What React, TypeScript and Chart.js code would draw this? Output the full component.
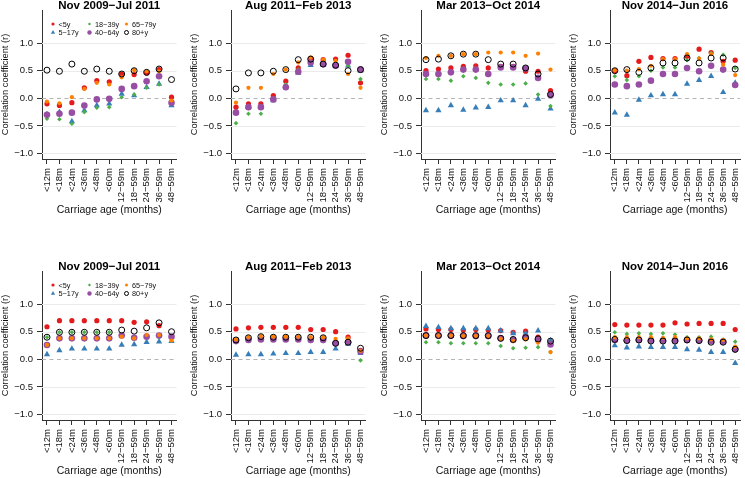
import React, { useEffect, useRef } from "react";
import { Chart, registerables } from "chart.js";

Chart.register(...registerables);

const FONT = "'Liberation Sans', Arial, Helvetica, sans-serif";

// ---- labels ----
const categories = ["<12m", "<18m", "<24m", "<36m", "<48m", "<60m", "12−59m", "18−59m", "24−59m", "36−59m", "48−59m"];
const seriesNames = ["<5y", "5−17y", "18−39y", "40−64y", "65−79y", "80+y"];
const periods = ["Nov 2009−Jul 2011", "Aug 2011−Feb 2013", "Mar 2013−Oct 2014", "Nov 2014−Jun 2016"];
const yTickValues = [-1, -0.5, 0, 0.5, 1];
const yTickLabels = ["−1.0", "−0.5", "0.0", "0.5", "1.0"];
const yTitle = "Correlation coefficient (r)";
const xTitle = "Carriage age (months)";

// ---- top row data ----
const t1_u5 = [-0.10, -0.13, -0.08, 0.19, 0.32, 0.30, 0.44, 0.43, 0.46, 0.52, 0.02];
const t1_5to17 = [-0.29, -0.25, -0.42, -0.22, -0.13, -0.10, 0.08, 0.05, 0.20, 0.26, -0.13];
const t1_18to39 = [-0.37, -0.38, -0.46, -0.25, -0.17, -0.16, 0.02, 0.07, 0.19, 0.25, -0.08];
const t1_40to64 = [-0.30, -0.28, -0.26, -0.13, -0.02, -0.01, 0.17, 0.22, 0.31, 0.40, -0.08];
const t1_65to79 = [-0.06, -0.09, 0.02, 0.17, 0.28, 0.25, 0.38, 0.51, 0.49, 0.49, -0.04];
const t1_80p = [0.51, 0.49, 0.62, 0.49, 0.53, 0.49, 0.44, 0.50, 0.47, 0.53, 0.34];

const t2_u5 = [-0.16, -0.10, -0.10, 0.05, 0.31, 0.55, 0.72, 0.70, 0.71, 0.78, 0.28];
const t2_5to17 = [-0.26, -0.16, -0.16, -0.04, 0.23, 0.46, 0.60, 0.61, 0.59, 0.59, 0.50];
const t2_18to39 = [-0.45, -0.28, -0.28, -0.02, 0.25, 0.52, 0.68, 0.62, 0.62, 0.59, 0.35];
const t2_40to64 = [-0.26, -0.16, -0.16, -0.02, 0.20, 0.48, 0.65, 0.62, 0.59, 0.66, 0.52];
const t2_65to79 = [-0.08, 0.19, 0.19, 0.44, 0.52, 0.65, 0.74, 0.70, 0.68, 0.44, 0.19];
const t2_80p = [0.17, 0.46, 0.46, 0.49, 0.52, 0.70, 0.71, 0.62, 0.60, 0.50, 0.52];

const t3_u5 = [0.50, 0.53, 0.55, 0.58, 0.59, 0.55, 0.58, 0.58, 0.49, 0.49, 0.14];
const t3_5to17 = [-0.22, -0.22, -0.13, -0.21, -0.17, -0.16, -0.04, -0.04, -0.13, -0.01, -0.19];
const t3_18to39 = [0.35, 0.35, 0.32, 0.40, 0.37, 0.28, 0.25, 0.25, 0.27, 0.07, -0.14];
const t3_40to64 = [0.44, 0.44, 0.47, 0.52, 0.52, 0.44, 0.56, 0.56, 0.54, 0.37, 0.06];
const t3_65to79 = [0.73, 0.77, 0.77, 0.80, 0.80, 0.83, 0.83, 0.83, 0.77, 0.81, 0.52];
const t3_80p = [0.70, 0.71, 0.77, 0.80, 0.80, 0.70, 0.62, 0.62, 0.55, 0.44, 0.07];

const t4_u5 = [0.50, 0.41, 0.67, 0.74, 0.72, 0.72, 0.76, 0.89, 0.83, 0.67, 0.69];
const t4_5to17 = [-0.26, -0.30, -0.03, 0.05, 0.07, 0.07, 0.26, 0.33, 0.40, 0.11, 0.28];
const t4_18to39 = [0.40, 0.33, 0.40, 0.50, 0.56, 0.56, 0.69, 0.73, 0.82, 0.79, 0.55];
const t4_40to64 = [0.25, 0.22, 0.25, 0.32, 0.44, 0.44, 0.55, 0.49, 0.59, 0.52, 0.24];
const t4_65to79 = [0.51, 0.50, 0.53, 0.59, 0.71, 0.71, 0.80, 0.72, 0.80, 0.61, 0.42];
const t4_80p = [0.50, 0.52, 0.47, 0.55, 0.64, 0.64, 0.73, 0.64, 0.73, 0.73, 0.53];

// ---- bottom row data ----
const b1_u5 = [0.59, 0.70, 0.70, 0.70, 0.70, 0.70, 0.70, 0.67, 0.68, 0.61, 0.41];
const b1_5to17 = [0.09, 0.16, 0.19, 0.19, 0.19, 0.19, 0.26, 0.27, 0.31, 0.32, 0.33];
const b1_18to39 = [0.40, 0.49, 0.49, 0.49, 0.49, 0.49, 0.43, 0.40, 0.42, 0.40, 0.41];
const b1_40to64 = [0.26, 0.38, 0.38, 0.38, 0.38, 0.38, 0.43, 0.39, 0.41, 0.43, 0.41];
const b1_65to79 = [0.26, 0.38, 0.38, 0.38, 0.38, 0.38, 0.41, 0.38, 0.44, 0.44, 0.34];
const b1_80p = [0.40, 0.49, 0.49, 0.49, 0.49, 0.49, 0.53, 0.51, 0.57, 0.66, 0.50];

const b2_u5 = [0.55, 0.57, 0.58, 0.58, 0.58, 0.58, 0.54, 0.54, 0.50, 0.40, 0.16];
const b2_5to17 = [0.08, 0.09, 0.09, 0.10, 0.11, 0.11, 0.13, 0.13, 0.19, 0.28, 0.11];
const b2_18to39 = [0.32, 0.34, 0.35, 0.35, 0.35, 0.35, 0.33, 0.33, 0.30, 0.30, -0.02];
const b2_40to64 = [0.33, 0.35, 0.36, 0.36, 0.36, 0.36, 0.35, 0.35, 0.29, 0.31, 0.14];
const b2_65to79 = [0.36, 0.40, 0.42, 0.41, 0.41, 0.41, 0.40, 0.40, 0.37, 0.38, 0.15];
const b2_80p = [0.35, 0.39, 0.41, 0.40, 0.40, 0.40, 0.40, 0.39, 0.29, 0.31, 0.20];

const b3_u5 = [0.55, 0.54, 0.54, 0.53, 0.54, 0.53, 0.52, 0.49, 0.51, 0.40, 0.31];
const b3_5to17 = [0.60, 0.58, 0.56, 0.56, 0.56, 0.56, 0.52, 0.47, 0.47, 0.52, 0.34];
const b3_18to39 = [0.31, 0.31, 0.29, 0.29, 0.29, 0.29, 0.24, 0.20, 0.21, 0.22, 0.13];
const b3_40to64 = [0.43, 0.43, 0.43, 0.42, 0.42, 0.42, 0.38, 0.35, 0.40, 0.35, 0.27];
const b3_65to79 = [0.43, 0.43, 0.43, 0.42, 0.42, 0.42, 0.37, 0.33, 0.36, 0.30, 0.13];
const b3_80p = [0.43, 0.43, 0.43, 0.43, 0.43, 0.43, 0.38, 0.36, 0.39, 0.37, 0.33];

const b4_u5 = [0.63, 0.62, 0.62, 0.62, 0.62, 0.66, 0.64, 0.65, 0.65, 0.65, 0.54];
const b4_5to17 = [0.25, 0.21, 0.23, 0.22, 0.22, 0.22, 0.18, 0.17, 0.13, 0.13, -0.07];
const b4_18to39 = [0.49, 0.46, 0.47, 0.46, 0.47, 0.45, 0.40, 0.40, 0.41, 0.36, 0.32];
const b4_40to64 = [0.35, 0.34, 0.35, 0.34, 0.34, 0.34, 0.35, 0.34, 0.33, 0.32, 0.18];
const b4_65to79 = [0.40, 0.40, 0.40, 0.40, 0.39, 0.40, 0.38, 0.38, 0.36, 0.35, 0.23];
const b4_80p = [0.36, 0.34, 0.35, 0.33, 0.33, 0.33, 0.35, 0.34, 0.31, 0.31, 0.18];

const topRow = [
  [t1_u5, t1_5to17, t1_18to39, t1_40to64, t1_65to79, t1_80p],
  [t2_u5, t2_5to17, t2_18to39, t2_40to64, t2_65to79, t2_80p],
  [t3_u5, t3_5to17, t3_18to39, t3_40to64, t3_65to79, t3_80p],
  [t4_u5, t4_5to17, t4_18to39, t4_40to64, t4_65to79, t4_80p],
];
const bottomRow = [
  [b1_u5, b1_5to17, b1_18to39, b1_40to64, b1_65to79, b1_80p],
  [b2_u5, b2_5to17, b2_18to39, b2_40to64, b2_65to79, b2_80p],
  [b3_u5, b3_5to17, b3_18to39, b3_40to64, b3_65to79, b3_80p],
  [b4_u5, b4_5to17, b4_18to39, b4_40to64, b4_65to79, b4_80p],
];

// ---- styles ----
const seriesColors = ["#E41A1C", "#377EB8", "#4DAF4A", "#984EA3", "#FF7F00", "#000000"];
const seriesStyles = ["circle", "triangle", "rectRot", "circle", "circle", "circle"];
const seriesRadius = [2.6, 3.6, 2.3, 3.3, 2.1, 3.0];
const seriesOpen = [false, false, false, false, false, true];
const legendRadius = [1.6, 2.4, 1.6, 2.2, 1.5, 2.0];

const colLeft = [0, 189, 379, 568];
const colWidth = [189, 190, 189, 177];
const rowTop = [0, 261];
const CANVAS_H = 216;
const PLOT_W = 134.5;

const refLinesPlugin = {
  id: "refLines",
  beforeDatasetsDraw(chart: any) {
    const { ctx, chartArea } = chart;
    const y = chart.scales.y;
    ctx.save();
    for (const v of yTickValues) {
      const py = Math.round(y.getPixelForValue(v)) + 0.5;
      ctx.beginPath();
      if (v === 0) {
        ctx.strokeStyle = "#b4b4b4";
        ctx.setLineDash([4, 3.5]);
      } else {
        ctx.strokeStyle = "#ebebeb";
        ctx.setLineDash([]);
      }
      ctx.lineWidth = 1;
      ctx.moveTo(chartArea.left, py);
      ctx.lineTo(chartArea.right, py);
      ctx.stroke();
    }
    ctx.restore();
  },
};

const titlePlugin = {
  id: "panelTitle",
  afterDraw(chart: any, _args: any, opts: any) {
    const { ctx, chartArea } = chart;
    ctx.save();
    ctx.font = `bold 11.5px ${FONT}`;
    ctx.fillStyle = "#000";
    ctx.textAlign = "center";
    ctx.textBaseline = "alphabetic";
    ctx.fillText(opts.text, (chartArea.left + chartArea.right) / 2, chartArea.top - 1.5);
    ctx.restore();
  },
};

function drawMarker(ctx: CanvasRenderingContext2D, style: string, x: number, y: number, r: number, color: string, open: boolean) {
  ctx.beginPath();
  if (style === "triangle") {
    for (let k = 0; k < 3; k++) {
      const a = (k * 2 * Math.PI) / 3;
      const px = x + Math.sin(a) * r;
      const py = y - Math.cos(a) * r;
      if (k === 0) ctx.moveTo(px, py);
      else ctx.lineTo(px, py);
    }
    ctx.closePath();
  } else if (style === "rectRot") {
    ctx.moveTo(x, y - r);
    ctx.lineTo(x + r, y);
    ctx.lineTo(x, y + r);
    ctx.lineTo(x - r, y);
    ctx.closePath();
  } else {
    ctx.arc(x, y, r, 0, Math.PI * 2);
  }
  if (open) {
    ctx.strokeStyle = color;
    ctx.lineWidth = 1;
    ctx.stroke();
  } else {
    ctx.fillStyle = color;
    ctx.fill();
  }
}

const legendPlugin = {
  id: "panelLegend",
  afterDraw(chart: any, _args: any, opts: any) {
    if (!opts.show) return;
    const { ctx, chartArea } = chart;
    const colX = [11, 47.5, 84.5];
    const rowY = [14, 22.5];
    ctx.save();
    ctx.font = `7.3px ${FONT}`;
    ctx.textBaseline = "middle";
    ctx.textAlign = "left";
    seriesNames.forEach((name, i) => {
      const x = chartArea.left + colX[Math.floor(i / 2)];
      const y = chartArea.top + rowY[i % 2];
      drawMarker(ctx, seriesStyles[i], x, y, legendRadius[i], seriesColors[i], seriesOpen[i]);
      ctx.fillStyle = "#111";
      ctx.fillText(name, x + 5.5, y + 0.5);
    });
    ctx.restore();
  },
};

function Panel(props: { left: number; top: number; width: number; title: string; series: number[][]; legend: boolean }) {
  const ref = useRef<HTMLCanvasElement>(null);
  const { left, top, width, title, series, legend } = props;
  useEffect(() => {
    const datasets = series.map((vals, i) => ({
      label: seriesNames[i],
      data: vals.map((v, k) => ({ x: k + 1, y: v })),
      pointStyle: seriesStyles[i],
      pointRadius: seriesRadius[i],
      pointBackgroundColor: seriesOpen[i] ? "rgba(0,0,0,0)" : seriesColors[i],
      pointBorderColor: seriesColors[i],
      pointBorderWidth: seriesOpen[i] ? 1 : 0,
      showLine: false,
      order: series.length - i,
    }));
    const chart = new Chart(ref.current as HTMLCanvasElement, {
      type: "scatter",
      data: { datasets },
      options: {
        animation: false,
        responsive: false,
        devicePixelRatio: 1,
        events: [],
        layout: { padding: { top: 10, left: 0, bottom: 0, right: width - 42 - PLOT_W } },
        plugins: {
          legend: { display: false },
          tooltip: { enabled: false },
          panelTitle: { text: title },
          panelLegend: { show: legend },
        } as any,
        scales: {
          x: {
            type: "linear",
            min: 0.6,
            max: 11.4,
            afterBuildTicks: (scale: any) => {
              scale.ticks = categories.map((_, k) => ({ value: k + 1 }));
            },
            afterFit: (scale: any) => {
              scale.height = CANVAS_H - 159;
              scale.paddingLeft = 0;
              scale.paddingRight = 0;
              scale.paddingTop = 0;
              scale.paddingBottom = 0;
            },
            ticks: {
              autoSkip: false,
              minRotation: 90,
              maxRotation: 90,
              padding: 4,
              color: "#111",
              font: { size: 9.5, family: FONT },
              callback: (value: any) => categories[Math.round(Number(value)) - 1] ?? "",
            },
            grid: { drawOnChartArea: false, drawTicks: true, tickLength: 5, tickColor: "#333", tickWidth: 1 },
            border: { display: true, color: "#333", width: 1 },
            title: { display: true, text: xTitle, color: "#111", font: { size: 10.5, family: FONT }, padding: { top: 0, bottom: 0 } },
          },
          y: {
            type: "linear",
            min: -1.1,
            max: 1.6,
            afterBuildTicks: (scale: any) => {
              scale.ticks = yTickValues.map((v) => ({ value: v }));
            },
            afterFit: (scale: any) => {
              scale.width = 42;
              scale.paddingLeft = 0;
              scale.paddingRight = 0;
              scale.paddingTop = 0;
              scale.paddingBottom = 0;
            },
            ticks: {
              autoSkip: false,
              padding: 4,
              color: "#111",
              font: { size: 9.5, family: FONT },
              callback: (value: any) => {
                const idx = yTickValues.indexOf(Number(value));
                return idx >= 0 ? yTickLabels[idx] : "";
              },
            },
            grid: { drawOnChartArea: false, drawTicks: true, tickLength: 5, tickColor: "#333", tickWidth: 1 },
            border: { display: true, color: "#333", width: 1 },
            title: { display: true, text: yTitle, color: "#111", font: { size: 9.3, family: FONT }, padding: { top: 0, bottom: 0 } },
          },
        },
      } as any,
      plugins: [refLinesPlugin, titlePlugin, legendPlugin],
    });
    return () => chart.destroy();
  }, []);
  return (
    <canvas
      ref={ref}
      width={width}
      height={CANVAS_H}
      style={{ position: "absolute", left, top, width, height: CANVAS_H, display: "block" }}
    />
  );
}

export default function App() {
  return (
    <div style={{ position: "fixed", left: 0, top: 0, width: 745, height: 478, overflow: "hidden", background: "#fff" }}>
      {[topRow, bottomRow].map((row, r) =>
        row.map((series, c) => (
          <Panel
            key={`${r}-${c}`}
            left={colLeft[c]}
            top={rowTop[r]}
            width={colWidth[c]}
            title={periods[c]}
            series={series}
            legend={c === 0}
          />
        ))
      )}
    </div>
  );
}
